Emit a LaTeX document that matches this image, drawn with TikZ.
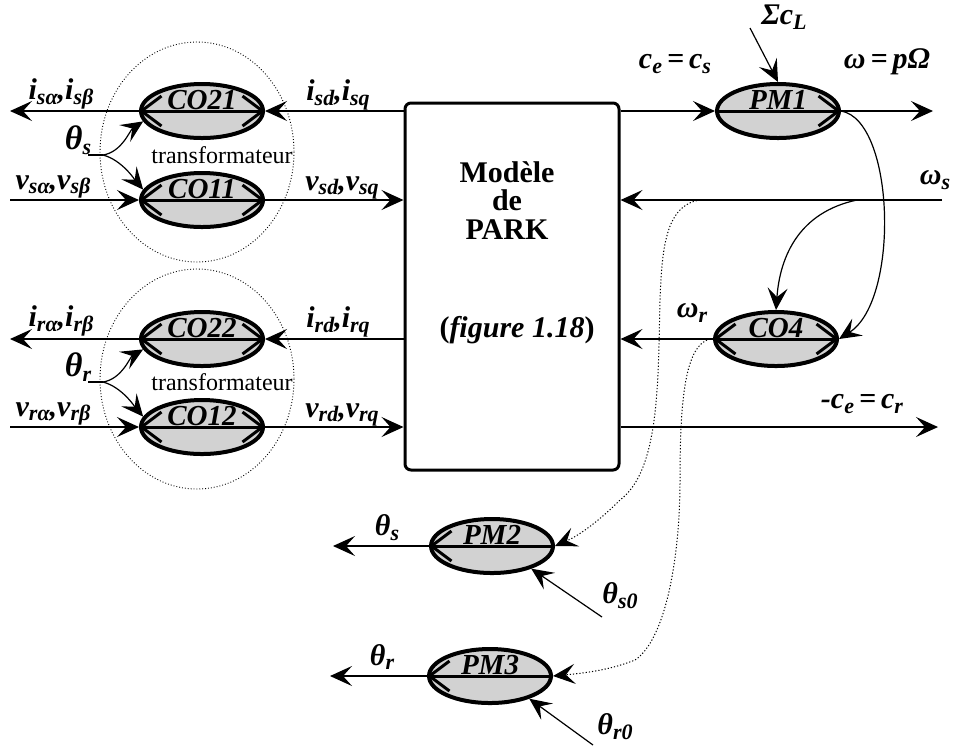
\documentclass[tikz,border=0pt]{standalone}
\usepackage{fontspec}
\setmainfont{Liberation Serif}
\usetikzlibrary{arrows.meta,shapes.geometric}

\newcommand{\sbs}[1]{\raisebox{-0.35ex}{\fontsize{11}{12}\selectfont #1}}

\tikzset{
  proc/.style={ellipse, draw, line width=2pt, fill=gray!35,
    minimum width=61pt, minimum height=27pt, inner sep=0pt},
  park/.style={draw, line width=1.5pt, rounded corners=3pt,
    minimum width=107pt, minimum height=183.5pt, inner sep=0pt},
  parktxt/.style={font=\fontsize{15}{17}\selectfont\bfseries, inner sep=0pt},
  sig/.style={-{Stealth[length=11pt,width=10pt,inset=4.5pt]}, line width=0.6pt},
  sigdot/.style={sig, densely dotted, line width=0.5pt},
  group/.style={densely dotted, line width=0.45pt},
  chevboth/.style={line width=1.5pt,
    {Straight Barb[length=10pt,width=15pt]}-{Straight Barb[length=10pt,width=15pt]}},
  chevleft/.style={line width=1.5pt, {Straight Barb[length=10pt,width=15pt]}-},
  chevright/.style={line width=1.5pt, -{Straight Barb[length=10pt,width=15pt]}},
  pname/.style={font=\fontsize{14.5}{15}\selectfont\bfseries\itshape,
    anchor=base, inner sep=0pt, yshift=1pt},
  lbl/.style={font=\fontsize{15}{17}\selectfont\bfseries\itshape, inner sep=0pt},
  thlbl/.style={font=\fontsize{17}{18}\selectfont\bfseries\itshape, inner sep=0pt},
  tfm/.style={font=\fontsize{12}{14}\selectfont, inner sep=0pt},
}

\begin{document}
\begin{tikzpicture}[x=0.5pt, y=-0.5pt]
  \useasboundingbox (0,0) rectangle (956,746);

  % Park model block
  \node[park] (park) at (512,286.5) {};
  \node[parktxt] (mod) at (507,172) {Modèle};
  \node[parktxt] (de) at (507,200) {de};
  \node[parktxt] (prk) at (507,230) {PARK};
  \node[parktxt] (fig) at (517,330) {(\textit{figure 1.18})};

  \coordinate (lft) at (10,0);

  % Stator transformer CO21 / CO11
  \draw[group] (197,152) ellipse (97 and 110);
  \node[proc] (co21) at (202,111) {};
  \draw[chevboth] (co21.west) -- (co21.east);
  \node[pname] (n21) at (co21.center) {CO21};
  \node[proc] (co11) at (202,200) {};
  \draw[chevboth] (co11.west) -- (co11.east);
  \node[pname] (n11) at (co11.center) {CO11};
  \node[tfm] (tf1) at (222,155) {transformateur};

  \draw[sig] (co21.west) -- (co21.west -| lft);
  \draw[sig] (co21.east -| park.west) -- (co21.east);
  \draw[sig] (co11.west -| lft) -- (co11.west);
  \draw[sig] (co11.east) -- (co11.east -| park.west);
  \node[lbl] (isab) at (61,94) {i\sbs{sα},i\sbs{sβ}};
  \node[lbl] (isdq) at (338,95) {i\sbs{sd},i\sbs{sq}};
  \node[lbl] (vsab) at (53,187) {v\sbs{sα},v\sbs{sβ}};
  \node[lbl] (vsdq) at (342,188) {v\sbs{sd},v\sbs{sq}};

  % angle theta_s feeding the transformer
  \coordinate (ths) at (103,155);
  \node[thlbl] (thsl) at (78,140) {θ\sbs{s}};
  \draw[line width=0.6pt] (88,155) -- (ths);
  \draw[sig] (ths) .. controls (122,152) and (130,130) .. (co21.190);
  \draw[sig] (ths) .. controls (122,160) and (135,180) .. (co11.170);

  % Rotor transformer CO22 / CO12
  \draw[group] (197,379) ellipse (97 and 110);
  \node[proc] (co22) at (202,339) {};
  \draw[chevboth] (co22.west) -- (co22.east);
  \node[pname] (n22) at (co22.center) {CO22};
  \node[proc] (co12) at (202,427) {};
  \draw[chevboth] (co12.west) -- (co12.east);
  \node[pname] (n12) at (co12.center) {CO12};
  \node[tfm] (tf2) at (222,382) {transformateur};

  \draw[sig] (co22.west) -- (co22.west -| lft);
  \draw[sig] (co22.east -| park.west) -- (co22.east);
  \draw[sig] (co12.west -| lft) -- (co12.west);
  \draw[sig] (co12.east) -- (co12.east -| park.west);
  \node[lbl] (irab) at (61,321) {i\sbs{rα},i\sbs{rβ}};
  \node[lbl] (irdq) at (338,322) {i\sbs{rd},i\sbs{rq}};
  \node[lbl] (vrab) at (53,414) {v\sbs{rα},v\sbs{rβ}};
  \node[lbl] (vrdq) at (342,415) {v\sbs{rd},v\sbs{rq}};

  % angle theta_r feeding the transformer
  \coordinate (thr) at (103,382);
  \node[thlbl] (thrl) at (78,367) {θ\sbs{r}};
  \draw[line width=0.6pt] (88,382) -- (thr);
  \draw[sig] (thr) .. controls (122,379) and (130,357) .. (co22.190);
  \draw[sig] (thr) .. controls (122,387) and (135,407) .. (co12.170);

  % Mechanical part PM1
  \node[proc] (pm1) at (778,111) {};
  \draw[chevright] (pm1.west) -- (pm1.east);
  \node[pname] (npm1) at (pm1.center) {PM1};
  \coordinate (wout) at (933,111);
  \coordinate (cl) at (750,28);
  \draw[sig] (pm1.west -| park.east) -- (pm1.west);
  \draw[sig] (pm1.east) -- (wout);
  \draw[sig] (cl) -- (pm1.north);
  \node[lbl] (cecs) at (675,64) {c\sbs{e}\,=\,c\sbs{s}};
  \node[lbl] (scl) at (784,17) {Σc\sbs{L}};
  \node[lbl] (wpo) at (887,62) {ω\,=\,pΩ};

  % Slip pulsation CO4
  \coordinate (ws) at (942,200);
  \coordinate (wsb) at (857,200);
  \draw[sig] (ws) -- (ws -| park.east);
  \node[lbl] (wsl) at (935,180) {ω\sbs{s}};
  \node[proc] (co4) at (776,339) {};
  \draw[chevboth] (co4.west) -- (co4.east);
  \node[pname] (nco4) at (co4.center) {CO4};
  \draw[sig] (wsb) .. controls (800,212) and (780,255) .. (co4.north);
  \draw[sig] (pm1.east) .. controls (895,120) and (900,300) .. (co4.east);
  \draw[sig] (co4.west) -- (co4.west -| park.east);
  \node[lbl] (wrl) at (692,313) {ω\sbs{r}};
  \coordinate (cr) at (938,427);
  \draw[sig] (cr -| park.east) -- (cr);
  \node[lbl] (cecr) at (862,404) {-c\sbs{e}\,=\,c\sbs{r}};

  % Integrators PM2 / PM3
  \node[proc] (pm2) at (492,546) {};
  \draw[chevleft] (pm2.west) -- (pm2.east);
  \node[pname] (npm2) at (pm2.center) {PM2};
  \coordinate (tso) at (333,546);
  \coordinate (ts0) at (602,617);
  \draw[sig] (pm2.west) -- (tso);
  \draw[sig] (ts0) -- (pm2.-30);
  \node[lbl] (tsl) at (387,528) {θ\sbs{s}};
  \node[lbl] (ts0l) at (620,596) {θ\sbs{s0}};

  \node[proc] (pm3) at (490,676) {};
  \draw[chevleft] (pm3.west) -- (pm3.east);
  \node[pname] (npm3) at (pm3.center) {PM3};
  \coordinate (tro) at (330,676);
  \coordinate (tr0) at (593,745);
  \draw[sig] (pm3.west) -- (tro);
  \draw[sig] (tr0) -- (pm3.-30);
  \node[lbl] (trl) at (382,657) {θ\sbs{r}};
  \node[lbl] (tr0l) at (615,727) {θ\sbs{r0}};

  % dotted links from omega_s and omega_r
  \coordinate (wsd) at (700,200);
  \coordinate (wrd) at (710,339);
  \draw[sigdot] (wsd) .. controls (665,205) and (662,250) .. (660,300)
    .. controls (658,380) and (660,470) .. (620,500)
    .. controls (600,520) and (580,535) .. (pm2.east);
  \draw[sigdot] (wrd) .. controls (685,345) and (680,400) .. (680,480)
    .. controls (680,560) and (665,640) .. (635,660)
    .. controls (610,670) and (585,673) .. (pm3.east);
\end{tikzpicture}
\end{document}
